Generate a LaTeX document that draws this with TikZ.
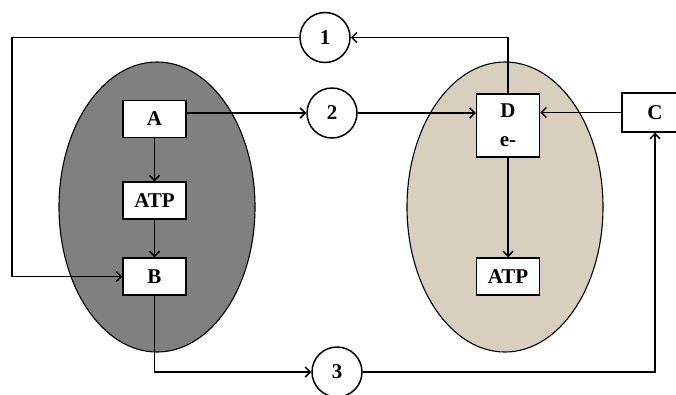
\documentclass[tikz,border=0pt]{standalone}
\usepackage{fontspec}
\setmainfont{Liberation Serif}
\usetikzlibrary{arrows.meta}
\definecolor{cellgray}{RGB}{128,128,128}
\definecolor{burlap}{RGB}{216,207,190}
\begin{document}
\begin{tikzpicture}[x=1pt,y=-1pt,
  box/.style={draw,fill=white,line width=1.5pt,minimum width=63pt,minimum height=37pt,inner sep=0pt,font=\fontsize{21}{24}\selectfont\bfseries},
  num/.style={draw,circle,fill=white,line width=1.5pt,minimum size=50pt,inner sep=0pt,font=\fontsize{21}{24}\selectfont\bfseries},
  conn/.style={line width=1.5pt,-{Straight Barb[length=5pt,width=10pt,line width=1.5pt]}},
  link/.style={line width=1.5pt}]
\clip (0,0) rectangle (676,394);
\useasboundingbox (0,0) rectangle (676,394);
\fill[white] (0,0) rectangle (676,394);
% cells
\draw[fill=cellgray,line width=1.1pt] (157,207) ellipse [x radius=98pt, y radius=145pt];
\draw[fill=burlap,line width=1.1pt] (505,207) ellipse [x radius=98pt, y radius=145pt];
% nodes
\node[box] (A) at (154.5,119) {A};
\node[box] (ATPL) at (154.5,200.5) {ATP};
\node[box] (B) at (154.5,276.5) {B};
\node[box,minimum height=63pt,align=center,font=\fontsize{21}{29}\selectfont\bfseries] (D) at (508,125.5) {D\\e-};
\node[box] (ATPR) at (508,276.5) {ATP};
\node[box,minimum width=66pt,minimum height=39pt] (C) at (655,112.5) {C};
\node[num] (c1) at (325,37.5) {1};
\node[num] (c2) at (332,113) {2};
\node[num] (c3) at (337,372) {3};
\coordinate (k1) at (12,37.5);
% connectors
\draw[conn] (A) -- (ATPL);
\draw[conn] (ATPL) -- (B);
\draw[conn] (c1.west) -- (k1) |- (B.west);
\draw[conn] (A.east |- c2.west) -- (c2.west);
\draw[conn] (c2.east) -- (D.west |- c2.east);
\draw[conn] (C.west) -- (D.east |- C.west);
\draw[conn] (D.north) |- (c1.east);
\draw[conn] (D.south) -- (ATPR.north);
\draw[conn] (B.south) |- (c3.west);
\draw[conn] (c3.east) -| (C.south);
\end{tikzpicture}
\end{document}
